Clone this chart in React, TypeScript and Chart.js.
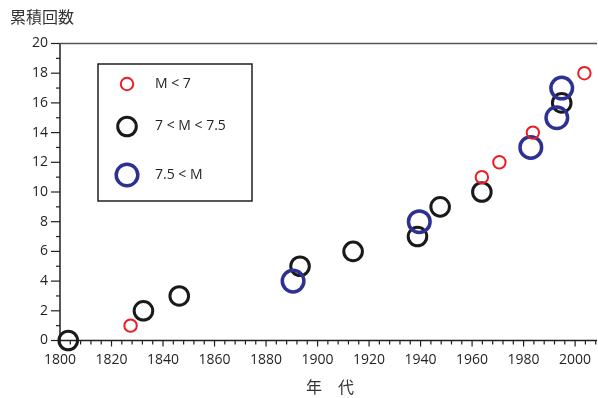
import React, { useEffect, useRef } from "react";
import { Chart, registerables } from "chart.js";
Chart.register(...registerables);

// Data (year, cumulative count)
const smallYears = [1827.4, 1963.8, 1970.6, 1983.6, 2003.6];
const smallCounts = [1, 11, 12, 14, 18];
const midYears = [1803.2, 1832.4, 1846.3, 1893.2, 1913.8, 1938.8, 1947.6, 1963.8, 1994.8];
const midCounts = [0, 2, 3, 5, 6, 7, 9, 10, 16];
const largeYears = [1890.5, 1939.5, 1982.8, 1992.9, 1994.8];
const largeCounts = [4, 8, 13, 15, 17];

const xTickLabels = [1800, 1820, 1840, 1860, 1880, 1900, 1920, 1940, 1960, 1980, 2000];
const yTickLabels = [0, 2, 4, 6, 8, 10, 12, 14, 16, 18, 20];
const legendLabels = ["M < 7", "7 < M < 7.5", "7.5 < M"];
const yTitle = "累積回数";
const xTitle = "年　代";

const RED = "#ec1c24";
const BLACK = "#1a1a1a";
const BLUE = "#2e3192";
const AXIS = "#231f20";
const FONT = "'Open Sans', 'Liberation Sans', sans-serif";
const CJK = "'Noto Sans CJK JP', sans-serif";

const styles = [
  { color: RED, r: 6.2, w: 2 },
  { color: BLACK, r: 9.3, w: 3 },
  { color: BLUE, r: 10.8, w: 3.5 },
];

const axesPlugin = {
  id: "customAxes",
  beforeDatasetsDraw(chart: any) {
    const { ctx, chartArea, scales } = chart;
    const { left, top, right, bottom } = chartArea;
    const x = scales.x;
    const y = scales.y;
    ctx.save();
    ctx.strokeStyle = AXIS;
    ctx.lineWidth = 1.5;
    ctx.beginPath();
    ctx.moveTo(left, top);
    ctx.lineTo(left, bottom);
    ctx.lineTo(right, bottom);
    ctx.stroke();
    ctx.strokeStyle = "#555";
    ctx.beginPath();
    ctx.moveTo(left, top);
    ctx.lineTo(right, top);
    ctx.stroke();
    ctx.strokeStyle = AXIS;
    ctx.lineWidth = 1.2;
    // y ticks
    for (let v = 0; v <= 20; v++) {
      const py = y.getPixelForValue(v);
      const len = v % 2 === 0 ? 9 : 4;
      ctx.beginPath();
      ctx.moveTo(left - len, py);
      ctx.lineTo(left, py);
      ctx.stroke();
    }
    // x ticks
    for (let yr = 1800; yr <= x.max; yr += 4) {
      const px = x.getPixelForValue(yr);
      const len = yr % 20 === 0 ? 6 : 4;
      ctx.beginPath();
      ctx.moveTo(px, bottom);
      ctx.lineTo(px, bottom + len);
      ctx.stroke();
    }
    // labels
    ctx.fillStyle = AXIS;
    ctx.font = `14px ${FONT}`;
    ctx.textAlign = "right";
    ctx.textBaseline = "middle";
    yTickLabels.forEach((v) => {
      ctx.fillText(String(v), left - 12, y.getPixelForValue(v));
    });
    ctx.textAlign = "center";
    xTickLabels.forEach((v) => {
      ctx.fillText(String(v), x.getPixelForValue(v), bottom + 20);
    });
    // titles
    ctx.font = `16px ${CJK}`;
    ctx.fillStyle = "#333";
    ctx.textAlign = "left";
    ctx.fillText(yTitle, 10, 17);
    ctx.textAlign = "center";
    ctx.fillText(xTitle, 330, 387);
    // legend box
    ctx.strokeStyle = AXIS;
    ctx.lineWidth = 1.5;
    ctx.strokeRect(98, 64, 154, 137);
    const ly = [84, 126.5, 175];
    legendLabels.forEach((lab, i) => {
      const s = styles[i];
      ctx.beginPath();
      ctx.strokeStyle = s.color;
      ctx.lineWidth = s.w;
      ctx.arc(127, ly[i], s.r, 0, Math.PI * 2);
      ctx.stroke();
      ctx.fillStyle = AXIS;
      ctx.font = `14px ${FONT}`;
      ctx.textAlign = "left";
      ctx.fillText(lab, 155, ly[i]);
    });
    ctx.restore();
  },
};

const toPts = (xs: number[], ys: number[]) => xs.map((v, i) => ({ x: v, y: ys[i] }));

export default function App() {
  const ref = useRef<HTMLCanvasElement>(null);
  useEffect(() => {
    const mk = (label: string, xs: number[], ys: number[], i: number) => ({
      label,
      data: toPts(xs, ys),
      showLine: false,
      pointStyle: "circle",
      pointRadius: styles[i].r,
      pointHoverRadius: styles[i].r,
      pointBorderWidth: styles[i].w,
      pointHoverBorderWidth: styles[i].w,
      borderColor: styles[i].color,
      backgroundColor: "rgba(0,0,0,0)",
      clip: false,
    });
    const chart = new Chart(ref.current!, {
      type: "scatter",
      data: {
        datasets: [
          mk(legendLabels[0], smallYears, smallCounts, 0),
          mk(legendLabels[2], largeYears, largeCounts, 2),
          mk(legendLabels[1], midYears, midCounts, 1),
        ] as any,
      },
      options: {
        responsive: false,
        animation: false,
        devicePixelRatio: 1,
        layout: { autoPadding: false, padding: { left: 60, top: 43.5, right: 1, bottom: 57.5 } },
        plugins: { legend: { display: false }, tooltip: { enabled: false } },
        scales: {
          x: { type: "linear", min: 1800, max: 2008.5, display: false },
          y: { type: "linear", min: 0, max: 20, display: false },
        },
      },
      plugins: [axesPlugin],
    });
    return () => chart.destroy();
  }, []);
  return (
    <div style={{ position: "fixed", left: 0, top: 0, width: 598, height: 398, background: "#fff" }}>
      <canvas ref={ref} width={598} height={398} style={{ width: 598, height: 398 }} />
    </div>
  );
}
